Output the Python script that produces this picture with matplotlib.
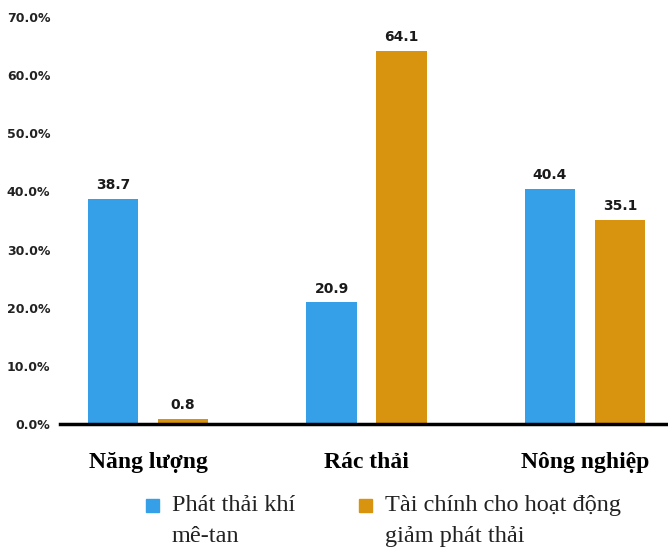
import matplotlib.pyplot as plt
import numpy as np
from matplotlib.patches import Rectangle

categories = ['Năng lượng', 'Rác thải', 'Nông nghiệp']
methane = [38.7, 20.9, 40.4]
finance = [0.8, 64.1, 35.1]
series_names = ['Phát thải khí\nmê-tan', 'Tài chính cho hoạt động\ngiảm phát thải']
yticks = [0, 10, 20, 30, 40, 50, 60, 70]

blue = '#35A0E8'
orange = '#D8940F'

fig = plt.figure(figsize=(6.68, 5.5), dpi=100)
ax = fig.add_axes([60 / 668, 126 / 550, 608 / 668, 407 / 550])

x = np.arange(len(categories))
w = 0.23
off = 0.16
b1 = ax.bar(x - off, methane, w, color=blue)
b2 = ax.bar(x + off, finance, w, color=orange)

for bars, vals in [(b1, methane), (b2, finance)]:
    for b, v in zip(bars, vals):
        ax.text(b.get_x() + b.get_width() / 2, v + 1.2, f'{v:.1f}',
                ha='center', va='bottom', fontsize=10, fontweight='bold',
                color='#1a1a1a')

ax.set_ylim(0, 70)
ax.set_xlim(-0.403, 2.38)
ax.set_yticks(yticks)
ax.set_yticklabels([f'{t:.1f}%' for t in yticks], fontsize=9, fontweight='bold',
                   color='#222222')
ax.set_xticks(x)
ax.set_xticklabels(categories, family='Liberation Serif', fontsize=17,
                   fontweight='bold')
ax.tick_params(axis='y', length=0, pad=7)
ax.tick_params(axis='x', length=0, pad=20)

for s in ['top', 'right', 'left']:
    ax.spines[s].set_visible(False)
ax.spines['bottom'].set_linewidth(2.5)
ax.spines['bottom'].set_color('black')

# legend
for (xp, col, name) in [(146, blue, series_names[0]), (359, orange, series_names[1])]:
    fig.add_artist(Rectangle((xp / 668, (550 - 512) / 550), 13 / 668, 13 / 550,
                             transform=fig.transFigure, color=col))
    fig.text((xp + 26) / 668, (550 - 495) / 550, name, family='Liberation Serif',
             fontsize=17.5, va='top', ha='left', linespacing=1.62, color='#222222')

fig.savefig('out.png', dpi=100)
